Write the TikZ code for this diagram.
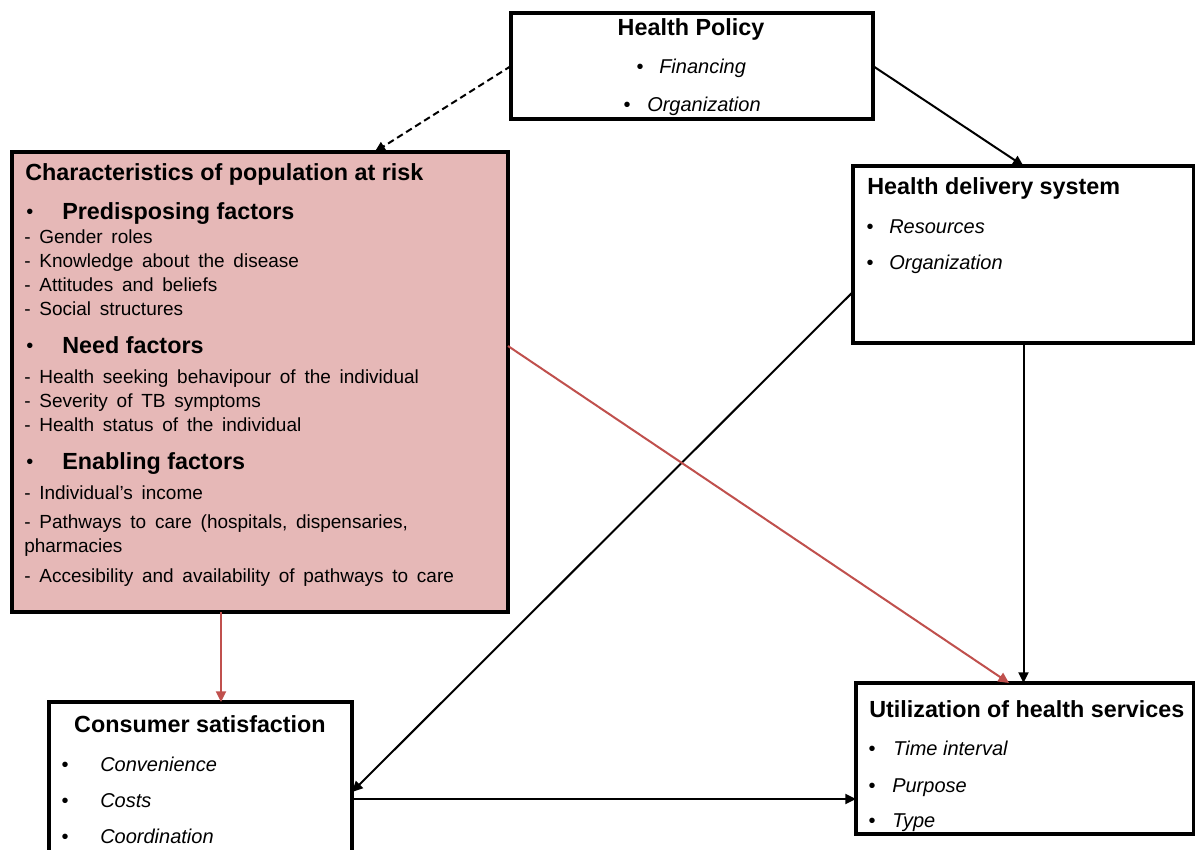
\documentclass[tikz,border=0pt]{standalone}
\usepackage{fontspec}
\setmainfont{Liberation Sans}
\usetikzlibrary{arrows.meta,calc}
\definecolor{pinkfill}{HTML}{E6B8B7}
\definecolor{redline}{HTML}{C0504D}
\newcommand\mywidespace{\spaceskip=0.46em\relax}
\begin{document}
\begin{tikzpicture}[x=0.75pt,y=-0.75pt,
  box/.style={draw=black,line width=2.3pt,rectangle,inner sep=0pt,outer sep=0pt,anchor=north west},
  ttl/.style={font=\fontsize{17.5}{20}\selectfont\bfseries,inner sep=0pt,text height=12.5pt,text depth=0pt},
  bodytxt/.style={font=\fontsize{14.25}{17}\selectfont,execute at begin node=\mywidespace,inner sep=0pt,text height=10.2pt,text depth=0pt,anchor=west},
  itl/.style={font=\fontsize{15}{18}\selectfont\itshape,inner sep=0pt,text height=10.7pt,text depth=0pt,anchor=west},
  bul/.style={font=\fontsize{15}{18}\selectfont,inner sep=0pt,text height=10.7pt,text depth=0pt},
  arr/.style={draw=black,line width=1.5pt,-{Triangle[length=8pt,width=7.5pt]}},
  redarr/.style={draw=redline,line width=1.5pt,-{Triangle[length=8pt,width=7.5pt]}},
  dasharr/.style={draw=black,line width=1.5pt,dash pattern=on 5pt off 3pt,-{Triangle[length=8pt,width=7.5pt]}}
]
\useasboundingbox (0,0) rectangle (1195,849);
\clip (0,0) rectangle (1195,849);
\fill[white] (0,0) rectangle (1195,849);

% boxes
\node[box,minimum width=271.5pt,minimum height=79.5pt] (hp) at (511,13) {};
\node[box,fill=pinkfill,minimum width=372pt,minimum height=345pt] (char) at (12,152) {};
\node[box,minimum width=255.75pt,minimum height=132.75pt] (hds) at (853,166) {};
\node[box,minimum width=227.25pt,minimum height=126pt] (cons) at (49,702) {};
\node[box,minimum width=253.5pt,minimum height=113.25pt] (util) at (856,683) {};

% Health Policy
\node[ttl] (hpT) at (691,27) {Health Policy};
\node[bul] (hpB1) at (640,66.5) {•};
\node[itl] (hpI1) at (659,66.5) {Financing};
\node[bul] (hpB2) at (627,104) {•};
\node[itl] (hpI2) at (647,104) {Organization};

% Characteristics
\node[ttl,anchor=west] (chT) at (25,172) {Characteristics of population at risk};
\node[bul] (chB1) at (30,211) {•};
\node[ttl,anchor=west] (chH1) at (62,211) {Predisposing factors};
\node[bodytxt] (c1) at (24,236.5) {- Gender roles};
\node[bodytxt] (c2) at (24,260.5) {- Knowledge about the disease};
\node[bodytxt] (c3) at (24,284.5) {- Attitudes and beliefs};
\node[bodytxt] (c4) at (24,308.5) {- Social structures};
\node[bul] (chB2) at (30,345) {•};
\node[ttl,anchor=west] (chH2) at (62,345) {Need factors};
\node[bodytxt] (c5) at (24,376.5) {- Health seeking behavipour of the individual};
\node[bodytxt] (c6) at (24,400.5) {- Severity of TB symptoms};
\node[bodytxt] (c7) at (24,424.5) {- Health status of the individual};
\node[bul] (chB3) at (30,461) {•};
\node[ttl,anchor=west] (chH3) at (62,461) {Enabling factors};
\node[bodytxt] (c8) at (24,492.5) {- Individual’s income};
\node[bodytxt] (c9) at (24,521.5) {- Pathways to care (hospitals, dispensaries,};
\node[bodytxt] (c10) at (24,545.5) {pharmacies};
\node[bodytxt] (c11) at (24,575.5) {- Accesibility and availability of pathways to care};

% Health delivery system
\node[ttl,anchor=west] (hdsT) at (867,186) {Health delivery system};
\node[bul] (hdsB1) at (870,226) {•};
\node[itl] (hdsI1) at (889,226) {Resources};
\node[bul] (hdsB2) at (870,262.5) {•};
\node[itl] (hdsI2) at (889,262.5) {Organization};

% Consumer satisfaction
\node[ttl] (consT) at (200,724) {Consumer satisfaction};
\node[bul] (coB1) at (65,764.5) {•};
\node[itl] (coI1) at (100,764.5) {Convenience};
\node[bul] (coB2) at (65,800.5) {•};
\node[itl] (coI2) at (100,800.5) {Costs};
\node[bul] (coB3) at (65,836) {•};
\node[itl] (coI3) at (100,836) {Coordination};

% Utilization
\node[ttl,anchor=west] (utT) at (869,709.5) {Utilization of health services};
\node[bul] (utB1) at (872,748) {•};
\node[itl] (utI1) at (893,748) {Time interval};
\node[bul] (utB2) at (872,785) {•};
\node[itl] (utI2) at (892,785) {Purpose};
\node[bul] (utB3) at (872,820.5) {•};
\node[itl] (utI3) at (892,820.5) {Type};

% connectors
\draw[dasharr] (hp.west) -- ([xshift=86pt]char.north);
\draw[arr] (hp.east) -- (hds.north);
\draw[arr] ([yshift=-28pt]hds.west) -- ([yshift=-67.5pt]cons.north east);
\draw[arr] (hds.south) -- (hds.south |- util.north);
\draw[redarr] ([yshift=27pt]char.east) -- ([xshift=-12pt]util.north);
\draw[redarr] ([xshift=-29.25pt]char.south) -- ([xshift=-29.25pt]char.south |- cons.north);
\draw[arr] ([yshift=-72.75pt]cons.north east) -- ([yshift=-72.75pt]cons.north east -| util.west);
\end{tikzpicture}
\end{document}
